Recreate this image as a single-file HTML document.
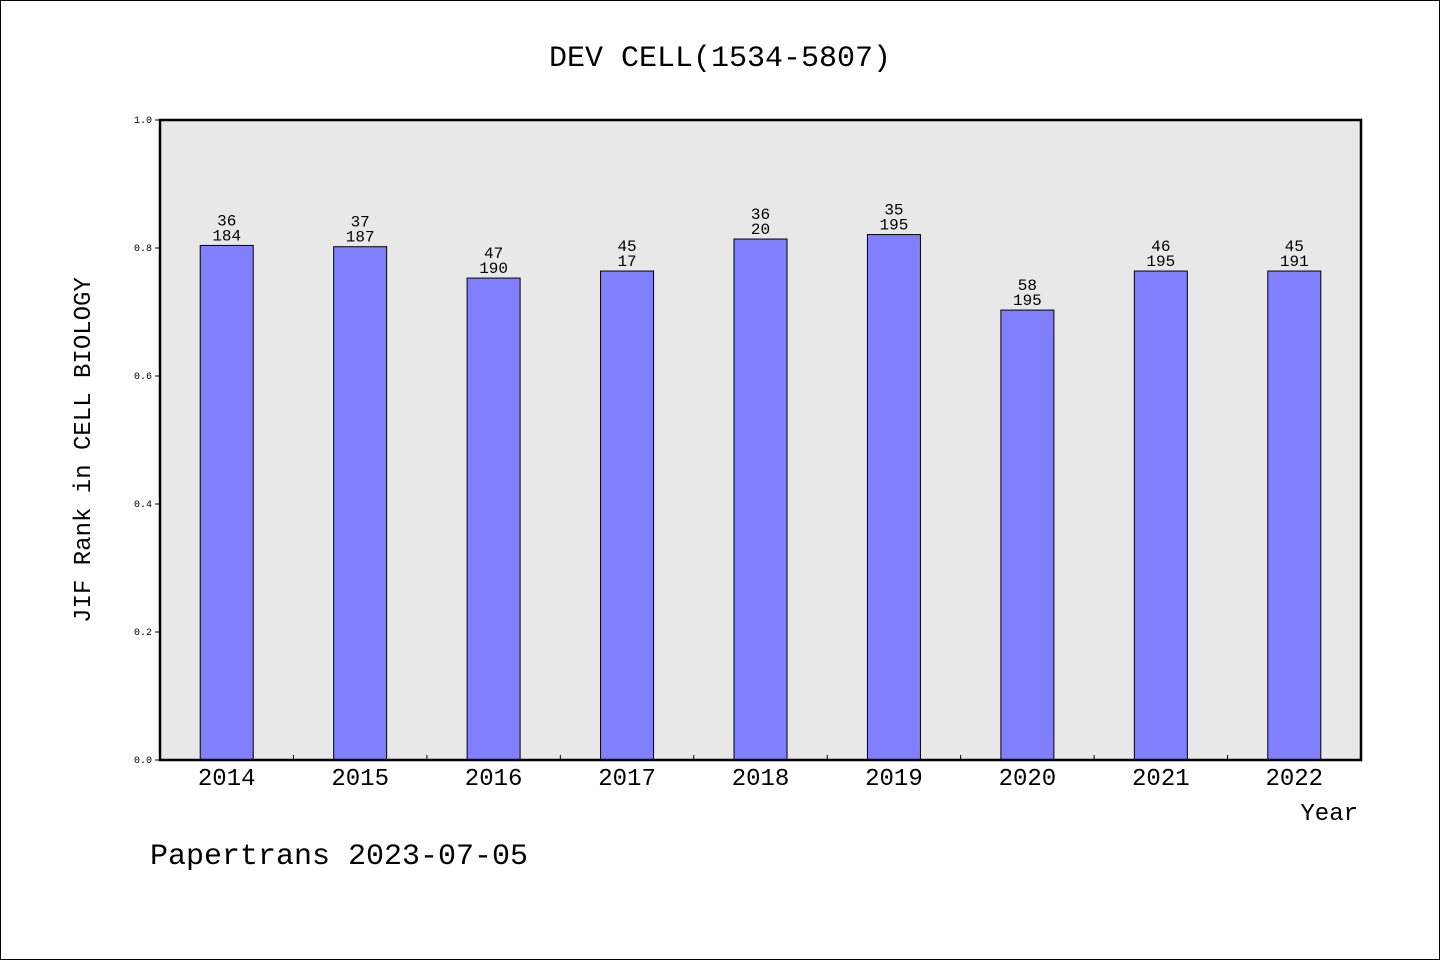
<!DOCTYPE html>
<html><head><meta charset="utf-8"><style>
body{margin:0;background:#fff}
svg text{font-family:"WenQuanYi Zen Hei","Liberation Mono",monospace}
</style></head><body>
<svg id="c" width="1440" height="960" xmlns="http://www.w3.org/2000/svg">
<rect x="0.5" y="0.5" width="1439" height="959" fill="#fff" stroke="#000"/>
<text x="720" y="66" font-size="30" text-anchor="middle">DEV CELL(1534-5807)</text>
<rect x="160" y="120" width="1201" height="640" fill="#e8e8e8"/>
<g id="bars"></g>
<rect x="160" y="120" width="1201" height="640" fill="none" stroke="#000" stroke-width="2.5"/>
<text transform="translate(90,450) rotate(-90)" font-size="24" text-anchor="middle">JIF Rank in CELL BIOLOGY</text>
<text x="1358" y="820" font-size="24" text-anchor="end">Year</text>
<text x="150" y="864" font-size="30">Papertrans 2023-07-05</text>
</svg>
<script>
const years=["2014","2015","2016","2017","2018","2019","2020","2021","2022"];
const values=[0.804,0.802,0.753,0.764,0.814,0.821,0.703,0.764,0.764];
const rankTop=["36","37","47","45","36","35","58","46","45"];
const rankBottom=["184","187","190","17","20","195","195","195","191"];
const yTicks=[0,0.2,0.4,0.6,0.8,1.0];
const X0=160,X1=1361,Y0=760,Y1=120,bw=(X1-X0)/years.length;
const ys=v=>Y0-(Y0-Y1)*v;
const xs=i=>X0+bw*(i+0.5);
const g=document.getElementById('bars');
const NS="http://www.w3.org/2000/svg";
function mk(t,a,txt){const e=document.createElementNS(NS,t);for(const k in a)e.setAttribute(k,a[k]);if(txt!=null)e.textContent=txt;g.appendChild(e);return e;}
years.forEach((y,i)=>{
 const cx=xs(i),top=ys(values[i]);
 const r=mk('rect',{x:cx-26.5,y:top,width:53,height:Y0-top,fill:'#8080ff',stroke:'#000','stroke-width':1});
 
 
 const t1=mk('text',{x:cx,y:top-20,'font-size':16,'text-anchor':'middle'},rankTop[i]);
 
 
 const t2=mk('text',{x:cx,y:top-5,'font-size':16,'text-anchor':'middle'},rankBottom[i]);
 
 
 const xl=mk('text',{x:cx,y:785,'font-size':24,'text-anchor':'middle'},y);
 
 
 if(i>0){const tk=mk('line',{x1:X0+bw*i,x2:X0+bw*i,y1:Y0,y2:Y0-5,stroke:'#000'});
 
 }
});
yTicks.forEach(v=>{
 const y=ys(v);
 const l=mk('line',{x1:X0-5,x2:X0,y1:y,y2:y,stroke:'#000'});
 
 
 const t=mk('text',{x:X0-8,y:y+3,'font-size':10,'text-anchor':'end'},v.toFixed(1));
 
 
});
</script>
</body></html>
